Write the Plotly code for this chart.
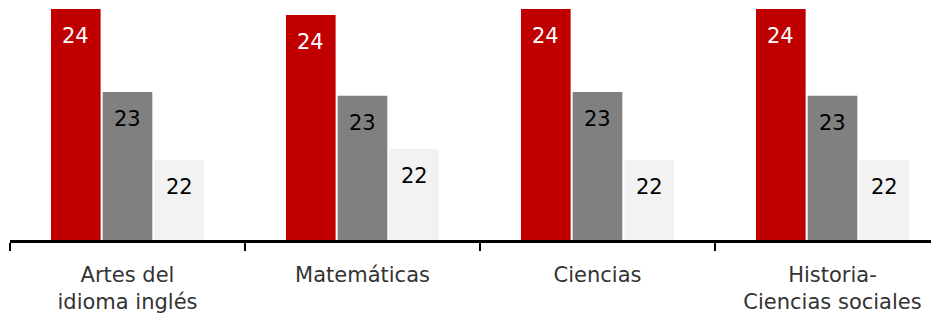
import plotly.graph_objects as go

categories = ["Artes del<br>idioma inglés", "Matemáticas", "Ciencias", "Historia-<br>Ciencias sociales"]
series_names = ["Serie 1", "Serie 2", "Serie 3"]
values_red = [24.1, 24.02, 24.1, 24.1]
values_grey = [23.0, 22.95, 23.0, 22.95]
values_light = [22.1, 22.25, 22.1, 22.1]

series_values = [values_red, values_grey, values_light]
bar_colors = ["#c00000", "#808080", "#f2f2f2"]
label_colors = ["#ffffff", "#000000", "#000000"]

# page body has an 8px margin; size the figure so it fits the 939x313 window
W, H = 931, 305
ML, MR, MT, MB = 2, 0, 0, 73
CAT_PX = 235.0
BARGAP = 0.34
BARGROUPGAP = 0.04
PX_PER_UNIT = 75.5
YMIN = 21.04
YMAX = YMIN + (H - MT - MB) / PX_PER_UNIT

fig = go.Figure()
for name, vals, col in zip(series_names, series_values, bar_colors):
    fig.add_trace(go.Bar(
        x=categories, y=vals, name=name,
        marker=dict(color=col, line=dict(width=0)),
        hoverinfo="skip", showlegend=False,
    ))

plot_w = W - ML - MR
pitch = CAT_PX * (1 - BARGAP) / len(series_values)
for i, (vals, tc) in enumerate(zip(series_values, label_colors)):
    for cat, v in zip(categories, vals):
        fig.add_annotation(
            x=cat, y=v, xref="x", yref="y",
            text=f"{v:.0f}", showarrow=False,
            xshift=(i - (len(series_values) - 1) / 2) * pitch,
            yshift=-27, yanchor="middle", xanchor="center",
            font=dict(family="DejaVu Sans", size=21, color=tc),
        )

fig.update_layout(
    width=W, height=H,
    margin=dict(l=ML, r=MR, t=MT, b=MB),
    barmode="group", bargap=BARGAP, bargroupgap=BARGROUPGAP,
    plot_bgcolor="white", paper_bgcolor="white",
    font=dict(family="DejaVu Sans", size=21, color="#333333"),
)
fig.update_xaxes(
    type="category",
    range=[-0.5, -0.5 + plot_w / CAT_PX],
    showline=True, linecolor="black", linewidth=2.5,
    ticks="outside", tickson="boundaries", ticklen=8, tickwidth=2, tickcolor="black",
    ticklabelstandoff=14,
    showgrid=False, zeroline=False,
    tickfont=dict(family="DejaVu Sans", size=21, color="#333333"),
)
fig.update_yaxes(
    range=[YMIN, YMAX], visible=False, showgrid=False, zeroline=False,
)

fig.write_html("out.html")
